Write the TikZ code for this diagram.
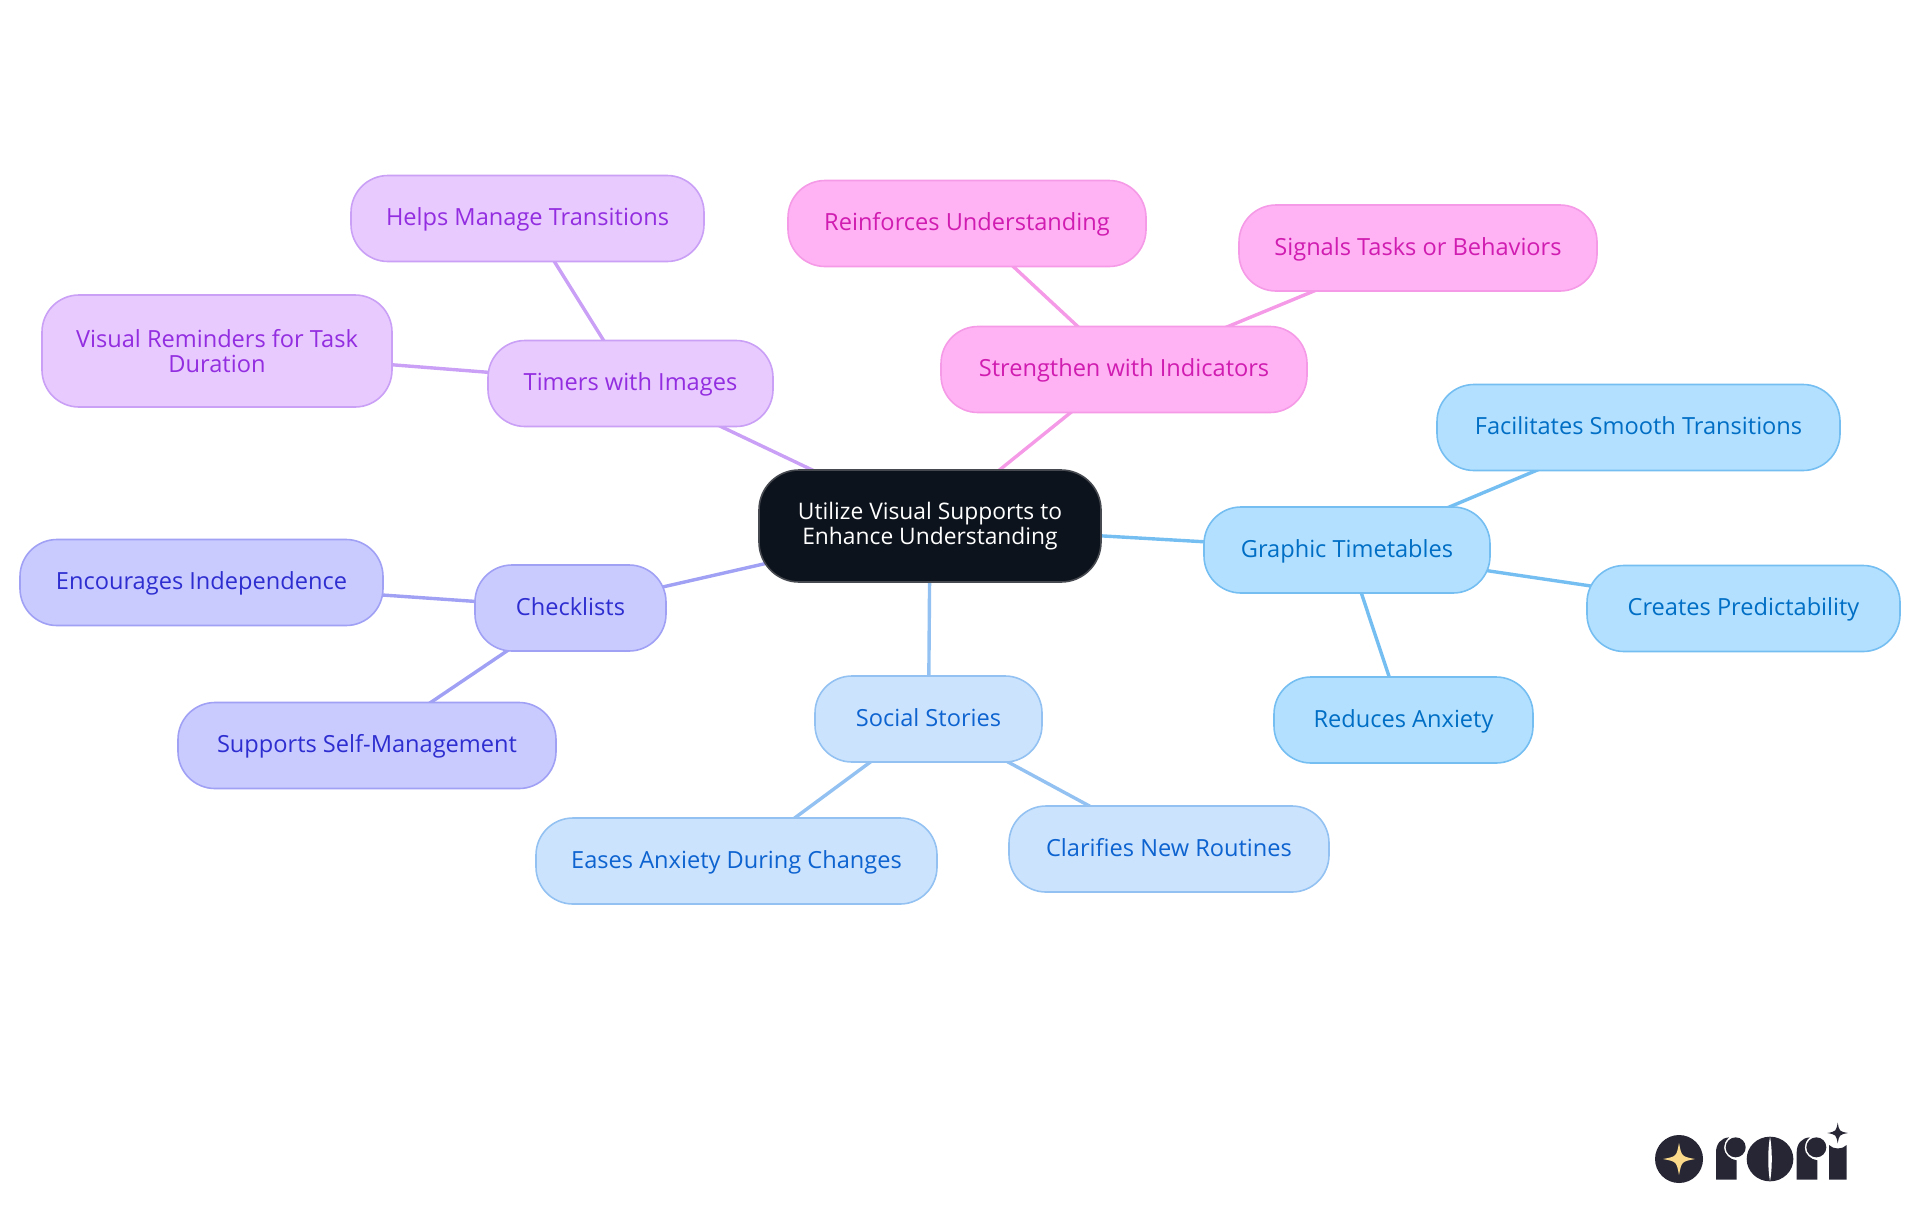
\documentclass[tikz,border=0pt]{standalone}
\usepackage{fontspec}
\setmainfont{Open Sans}
\usetikzlibrary{backgrounds}
\definecolor{rootfill}{RGB}{13, 19, 28}
\definecolor{rootline}{RGB}{70, 74, 80}
\definecolor{timerfill}{RGB}{232, 202, 255}
\definecolor{timerline}{RGB}{201, 160, 245}
\definecolor{timertext}{RGB}{147, 45, 224}
\definecolor{indicfill}{RGB}{255, 179, 245}
\definecolor{indicline}{RGB}{245, 154, 230}
\definecolor{indictext}{RGB}{208, 28, 176}
\definecolor{graphicfill}{RGB}{179, 224, 255}
\definecolor{graphicline}{RGB}{117, 190, 242}
\definecolor{graphictext}{RGB}{0, 110, 196}
\definecolor{socialfill}{RGB}{204, 227, 253}
\definecolor{socialline}{RGB}{147, 194, 242}
\definecolor{socialtext}{RGB}{13, 99, 208}
\definecolor{checkfill}{RGB}{201, 203, 255}
\definecolor{checkline}{RGB}{160, 160, 245}
\definecolor{checktext}{RGB}{46, 46, 208}
\definecolor{logodark}{RGB}{39, 38, 53}
\definecolor{logostar}{RGB}{250, 217, 138}
\newcommand{\logospark}[4]{%
  \fill[#4] (#1, #2-#3) .. controls (#1+.16*#3, #2-.16*#3) .. (#1+#3, #2)
    .. controls (#1+.16*#3, #2+.16*#3) .. (#1, #2+#3)
    .. controls (#1-.16*#3, #2+.16*#3) .. (#1-#3, #2)
    .. controls (#1-.16*#3, #2-.16*#3) .. cycle;}
\tikzset{
  mapnode/.style={rounded corners=18.5pt, align=center, inner sep=0pt, outer sep=0pt, line width=0.8pt, minimum height=43pt, text height=9.5pt, text depth=2.5pt, font=\fontsize{11.8}{12.5}\selectfont},
  twolines/.style={text height={}, text depth={}},
  rootbox/.style={mapnode, twolines, draw=rootline, fill=rootfill, text=white, rounded corners=20pt, font=\fontsize{11.4}{12.5}\selectfont},
  timerbox/.style={mapnode, draw=timerline, fill=timerfill, text=timertext},
  indicbox/.style={mapnode, draw=indicline, fill=indicfill, text=indictext},
  graphicbox/.style={mapnode, draw=graphicline, fill=graphicfill, text=graphictext},
  socialbox/.style={mapnode, draw=socialline, fill=socialfill, text=socialtext},
  checkbox/.style={mapnode, draw=checkline, fill=checkfill, text=checktext},
  maplink/.style={line width=1.7pt}
}

\begin{document}
\begin{tikzpicture}[x=0.5pt, y=-0.5pt]
  \useasboundingbox (0, 0) rectangle (1920, 1215);

  % Centre
  \node[rootbox, minimum width=171pt, minimum height=56pt] (root) at (930, 526) {Utilize Visual Supports to\\Enhance Understanding};

  % Timers branch
  \node[timerbox, minimum width=142.5pt] (timers) at (630.5, 383.5) {Timers with Images};
  \node[timerbox, minimum width=176.5pt] (helps) at (527.5, 218.5) {Helps Manage Transitions};
  \node[timerbox, twolines, minimum width=175pt, minimum height=56pt] (reminders) at (217, 351) {Visual Reminders for Task\\Duration};

  % Indicators branch
  \node[indicbox, minimum width=183pt] (indicators) at (1124, 369.5) {Strengthen with Indicators};
  \node[indicbox, minimum width=179pt] (reinforces) at (967, 223.5) {Reinforces Understanding};
  \node[indicbox, minimum width=179pt] (signals) at (1418, 248) {Signals Tasks or Behaviors};

  % Timetables branch
  \node[graphicbox, minimum width=143pt] (timetables) at (1347, 550) {Graphic Timetables};
  \node[graphicbox, minimum width=201.5pt] (smooth) at (1638.5, 427.5) {Facilitates Smooth Transitions};
  \node[graphicbox, minimum width=156.5pt] (predict) at (1743.5, 608.5) {Creates Predictability};
  \node[graphicbox, minimum width=129.5pt] (anxiety) at (1403.5, 720) {Reduces Anxiety};

  % Stories branch
  \node[socialbox, minimum width=113.5pt] (stories) at (928.5, 719) {Social Stories};
  \node[socialbox, minimum width=200.5pt] (eases) at (736.5, 861) {Eases Anxiety During Changes};
  \node[socialbox, minimum width=160pt] (clarifies) at (1169, 849) {Clarifies New Routines};

  % Checklists branch
  \node[checkbox, minimum width=95.5pt] (checklists) at (570.5, 608) {Checklists};
  \node[checkbox, minimum width=181.5pt] (independence) at (201.5, 582.5) {Encourages Independence};
  \node[checkbox, minimum width=189pt] (selfmanage) at (367, 745.5) {Supports Self-Management};

  % Links go behind the boxes
  \begin{scope}[on background layer]
    \draw[maplink, timerline] (root.center) -- (timers.center);
    \draw[maplink, timerline] (timers.center) -- (helps.center);
    \draw[maplink, timerline] (timers.center) -- (reminders.center);
    \draw[maplink, indicline] (root.center) -- (indicators.center);
    \draw[maplink, indicline] (indicators.center) -- (reinforces.center);
    \draw[maplink, indicline] (indicators.center) -- (signals.center);
    \draw[maplink, graphicline] (root.center) -- (timetables.center);
    \draw[maplink, graphicline] (timetables.center) -- (smooth.center);
    \draw[maplink, graphicline] (timetables.center) -- (predict.center);
    \draw[maplink, graphicline] (timetables.center) -- (anxiety.center);
    \draw[maplink, socialline] (root.center) -- (stories.center);
    \draw[maplink, socialline] (stories.center) -- (eases.center);
    \draw[maplink, socialline] (stories.center) -- (clarifies.center);
    \draw[maplink, checkline] (root.center) -- (checklists.center);
    \draw[maplink, checkline] (checklists.center) -- (independence.center);
    \draw[maplink, checkline] (checklists.center) -- (selfmanage.center);
  \end{scope}

  % Logo, in units of a third of a pixel
  \begin{scope}[shift={(1600, 1089)}, x=0.16667pt, y=-0.16667pt]
    \fill[logodark] (237, 210) circle (72);
    \logospark{237}{210}{48}{logostar}
    \foreach \offset in {0, 242} {
      \fill[logodark, shift={(\offset, 0)}] (348, 272) -- (348, 190) .. controls (348, 165) and (362, 147) .. (387, 145)
        .. controls (376, 155) and (372, 165) .. (372, 176) .. controls (372, 195) and (390, 212) .. (410, 214) -- (410, 272) -- cycle;
      \fill[logodark, shift={(\offset, 0)}] (407, 175) circle (30);
    }
    \fill[logodark] (510, 210) ellipse (70 and 67);
    \fill[white] (510, 143) .. controls (517, 180) and (517, 240) .. (510, 277) .. controls (503, 240) and (503, 180) .. cycle;
    \fill[logodark] (687, 272) -- (687, 168) .. controls (700, 182) and (727, 182) .. (740, 168) -- (740, 272) -- cycle;
    \logospark{713}{132}{31}{logodark}
  \end{scope}
\end{tikzpicture}
\end{document}
